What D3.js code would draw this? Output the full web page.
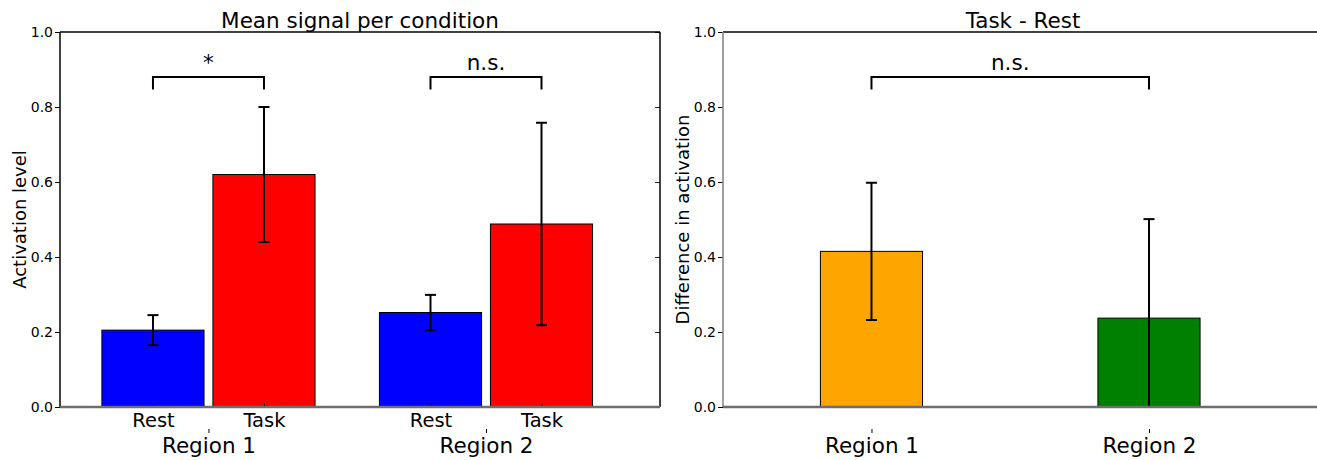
<!DOCTYPE html>
<html>
<head>
<meta charset="utf-8">
<script src="https://cdn.jsdelivr.net/npm/d3@7"></script>
<style>
  body { margin: 0; background: #fff; }
  svg { display: block; }
  svg text { font-family: "DejaVu Sans", sans-serif; }
</style>
</head>
<body>
<svg id="chart" width="1317" height="460"></svg>
<script>
// values
var regions = ["Region 1", "Region 2"];
var conditions = ["Rest", "Task"];
var restMean = [0.205, 0.252];
var restErr = [0.040, 0.047];
var taskMean = [0.620, 0.488];
var taskErr = [0.180, 0.270];
var diffMean = [0.415, 0.237];
var diffErr = [0.183, 0.264];
var condColors = ["#0000ff", "#ff0000"];
var diffColors = ["#ffa500", "#008000"];
var yTicks = [0.0, 0.2, 0.4, 0.6, 0.8, 1.0];
var leftSig = ["*", "n.s."];
var rightSig = ["n.s."];

var svg = d3.select("#chart");
var height = 375, width = 600, marginTop = 32;
var barW = 0.368, offset = 0.2;

var y = d3.scaleLinear().domain([0, 1]).range([height, 0]);

function panel(left, title, ylabel, leftSpineColor, bars, brackets, catTicks, hasRight) {
	var x = d3.scaleLinear().domain([-0.535, 1.627]).range([0, width]);
	var g = svg.append("g").attr("transform", "translate(" + left + "," + marginTop + ")");
	var clipId = "clip" + left;
	g.append("clipPath").attr("id", clipId)
		.append("rect").attr("width", width).attr("height", height);

	var plot = g.append("g").attr("clip-path", "url(#" + clipId + ")");

	// bars
	plot.selectAll("rect.bar")
		.data(bars).enter()
		.append("rect")
		.attr("class", "bar")
		.attr("x", function (d) { return x(d.pos - barW / 2); })
		.attr("width", x(barW) - x(0))
		.attr("y", function (d) { return y(d.value); })
		.attr("height", function (d) { return y(0) - y(d.value); })
		.attr("fill", function (d) { return d.color; })
		.attr("stroke", "#000")
		.attr("stroke-width", 1);

	// error bars
	var eb = plot.selectAll("g.err").data(bars).enter().append("g").attr("class", "err")
		.attr("stroke", "#000").attr("stroke-width", 2);
	eb.append("line")
		.attr("x1", function (d) { return x(d.pos); })
		.attr("x2", function (d) { return x(d.pos); })
		.attr("y1", function (d) { return y(d.value - d.err); })
		.attr("y2", function (d) { return y(d.value + d.err); });
	[-1, 1].forEach(function (s) {
		eb.append("line")
			.attr("x1", function (d) { return x(d.pos) - 5.5; })
			.attr("x2", function (d) { return x(d.pos) + 5.5; })
			.attr("y1", function (d) { return y(d.value + s * d.err); })
			.attr("y2", function (d) { return y(d.value + s * d.err); });
	});

	// significance brackets
	var br = g.selectAll("g.bracket").data(brackets).enter().append("g").attr("class", "bracket");
	br.append("path")
		.attr("fill", "none").attr("stroke", "#000").attr("stroke-width", 2)
		.attr("d", function (d) {
			return "M" + x(d.a) + "," + y(0.847) + "V" + y(0.88) + "H" + x(d.b) + "V" + y(0.847);
		});
	br.append("text")
		.attr("x", function (d) { return (x(d.a) + x(d.b)) / 2; })
		.attr("y", y(0.9))
		.attr("text-anchor", "middle")
		.style("font-size", "21.5px")
		.text(function (d) { return d.label; });

	// y axis (ticks outside)
	var yAxis = g.append("g")
		.call(d3.axisLeft(y).tickValues(yTicks).tickSize(5).tickPadding(2).tickFormat(d3.format(".1f")));
	yAxis.select(".domain").remove();
	yAxis.selectAll("text").style("font-size", "14px").attr("fill", "#000");
	yAxis.selectAll("line").attr("stroke", "#000");

	// right side ticks, pointing inwards
	if (hasRight) {
		var yr = g.append("g").attr("transform", "translate(" + width + ",0)")
			.call(d3.axisLeft(y).tickValues(yTicks).tickSize(5).tickFormat(""));
		yr.select(".domain").remove();
		yr.selectAll("line").attr("stroke", "#222");
	}

	// category axis (ticks inside, pointing up)
	var xAxis = g.append("g").attr("transform", "translate(0," + height + ")")
		.call(d3.axisBottom(x).tickValues(catTicks.map(function (d) { return d.pos; }))
			.tickSize(-4).tickPadding(6)
			.tickFormat(function (v, i) { return catTicks[i].label; }));
	xAxis.select(".domain").remove();
	xAxis.selectAll("line").attr("stroke", "#000");
	xAxis.selectAll("text").style("font-size", "19.5px").attr("fill", "#000");

	// spines
	g.append("line").attr("x1", 0).attr("x2", width).attr("y1", 0).attr("y2", 0)
		.attr("stroke", "#000").attr("stroke-width", 1.5);
	g.append("line").attr("x1", 0).attr("x2", 0).attr("y1", 0).attr("y2", height)
		.attr("stroke", leftSpineColor).attr("stroke-width", 1.5);
	if (hasRight) {
		g.append("line").attr("x1", width).attr("x2", width).attr("y1", 0).attr("y2", height)
			.attr("stroke", "#000").attr("stroke-width", 1.5);
	}
	g.append("line").attr("x1", 0).attr("x2", width).attr("y1", height).attr("y2", height)
		.attr("stroke", "#6e6e6e").attr("stroke-width", 2.5);

	// title and y label
	g.append("text").attr("x", width / 2).attr("y", -4)
		.attr("text-anchor", "middle").style("font-size", "21.5px").text(title);
	g.append("text")
		.attr("transform", "translate(-34," + height / 2 + ") rotate(-90)")
		.attr("text-anchor", "middle").style("font-size", "18px").text(ylabel);

	return { g: g, x: x };
}

// left panel: mean signal per condition
var leftBars = [];
var leftCats = [];
regions.forEach(function (r, i) {
	leftBars.push({ pos: i - offset, value: restMean[i], err: restErr[i], color: condColors[0] });
	leftBars.push({ pos: i + offset, value: taskMean[i], err: taskErr[i], color: condColors[1] });
	leftCats.push({ pos: i - offset, label: conditions[0] });
	leftCats.push({ pos: i + offset, label: conditions[1] });
});
var leftBrackets = regions.map(function (r, i) {
	return { a: i - offset, b: i + offset, label: leftSig[i] };
});
var p1 = panel(60, "Mean signal per condition", "Activation level", "#000",
	leftBars, leftBrackets, leftCats, true);

// right panel: task - rest
var rightBars = regions.map(function (r, i) {
	return { pos: i, value: diffMean[i], err: diffErr[i], color: diffColors[i] };
});
var p2 = panel(723, "Task - Rest", "Difference in activation", "#808080",
	rightBars, [{ a: 0, b: 1, label: rightSig[0] }], [], false);

// region labels under both panels
[p1, p2].forEach(function (p) {
	var ra = p.g.append("g").attr("transform", "translate(0," + (height + 22) + ")")
		.call(d3.axisBottom(p.x).tickValues(d3.range(regions.length))
			.tickSize(4).tickPadding(5)
			.tickFormat(function (v, i) { return regions[i]; }));
	ra.select(".domain").remove();
	ra.selectAll("line").attr("stroke", "#000");
	ra.selectAll("text").style("font-size", "21.5px").attr("fill", "#000");
});
</script>
</body>
</html>
